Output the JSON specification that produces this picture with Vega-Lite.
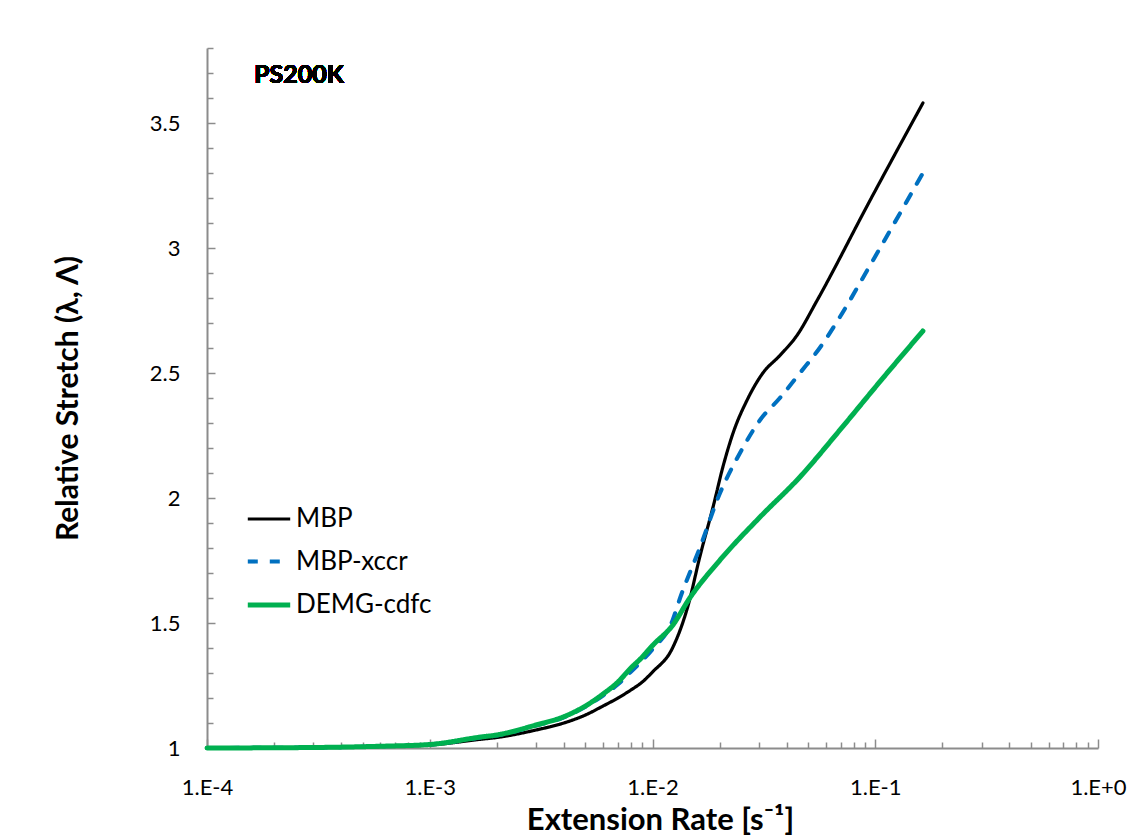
{
  "$schema": "https://vega.github.io/schema/vega-lite/v6.json",
  "autosize": "none",
  "width": 891,
  "height": 700,
  "padding": {"left": 207, "top": 48, "right": 38, "bottom": 87},
  "background": "white",
  "config": {
    "view": {"stroke": null},
    "font": "Lato",
    "axis": {"grid": false, "domainColor": "#8c8c8c", "domainWidth": 2, "tickColor": "#8c8c8c", "tickWidth": 1.5, "labelColor": "#000000", "titleColor": "#000000", "labelFont": "Lato", "titleFont": "Lato"}
  },
  "data": {
    "values": [
      {"series": "MBP", "rate": 0.0001, "stretch": 1.0},
      {"series": "MBP", "rate": 0.0003, "stretch": 1.002},
      {"series": "MBP", "rate": 0.0006, "stretch": 1.006},
      {"series": "MBP", "rate": 0.001, "stretch": 1.012},
      {"series": "MBP", "rate": 0.0017, "stretch": 1.035},
      {"series": "MBP", "rate": 0.002, "stretch": 1.042},
      {"series": "MBP", "rate": 0.003, "stretch": 1.072},
      {"series": "MBP", "rate": 0.004, "stretch": 1.10},
      {"series": "MBP", "rate": 0.005, "stretch": 1.132},
      {"series": "MBP", "rate": 0.006, "stretch": 1.168},
      {"series": "MBP", "rate": 0.007, "stretch": 1.20},
      {"series": "MBP", "rate": 0.008, "stretch": 1.232},
      {"series": "MBP", "rate": 0.009, "stretch": 1.264},
      {"series": "MBP", "rate": 0.01, "stretch": 1.304},
      {"series": "MBP", "rate": 0.0123, "stretch": 1.40},
      {"series": "MBP", "rate": 0.0145, "stretch": 1.575},
      {"series": "MBP", "rate": 0.0163, "stretch": 1.764},
      {"series": "MBP", "rate": 0.0187, "stretch": 1.964},
      {"series": "MBP", "rate": 0.0207, "stretch": 2.124},
      {"series": "MBP", "rate": 0.023, "stretch": 2.26},
      {"series": "MBP", "rate": 0.0266, "stretch": 2.392},
      {"series": "MBP", "rate": 0.0313, "stretch": 2.50},
      {"series": "MBP", "rate": 0.0373, "stretch": 2.57},
      {"series": "MBP", "rate": 0.0445, "stretch": 2.65},
      {"series": "MBP", "rate": 0.0548, "stretch": 2.79},
      {"series": "MBP", "rate": 0.0947, "stretch": 3.19},
      {"series": "MBP", "rate": 0.1637, "stretch": 3.58},
      {"series": "MBP-xccr", "rate": 0.0001, "stretch": 1.0},
      {"series": "MBP-xccr", "rate": 0.0003, "stretch": 1.002},
      {"series": "MBP-xccr", "rate": 0.0006, "stretch": 1.007},
      {"series": "MBP-xccr", "rate": 0.001, "stretch": 1.014},
      {"series": "MBP-xccr", "rate": 0.0017, "stretch": 1.042},
      {"series": "MBP-xccr", "rate": 0.002, "stretch": 1.05},
      {"series": "MBP-xccr", "rate": 0.003, "stretch": 1.09},
      {"series": "MBP-xccr", "rate": 0.004, "stretch": 1.123},
      {"series": "MBP-xccr", "rate": 0.005, "stretch": 1.165},
      {"series": "MBP-xccr", "rate": 0.006, "stretch": 1.21},
      {"series": "MBP-xccr", "rate": 0.007, "stretch": 1.255},
      {"series": "MBP-xccr", "rate": 0.008, "stretch": 1.305},
      {"series": "MBP-xccr", "rate": 0.009, "stretch": 1.35},
      {"series": "MBP-xccr", "rate": 0.01, "stretch": 1.395},
      {"series": "MBP-xccr", "rate": 0.0123, "stretch": 1.51},
      {"series": "MBP-xccr", "rate": 0.0133, "stretch": 1.60},
      {"series": "MBP-xccr", "rate": 0.0163, "stretch": 1.80},
      {"series": "MBP-xccr", "rate": 0.0201, "stretch": 2.02},
      {"series": "MBP-xccr", "rate": 0.0247, "stretch": 2.18},
      {"series": "MBP-xccr", "rate": 0.0304, "stretch": 2.312},
      {"series": "MBP-xccr", "rate": 0.0373, "stretch": 2.40},
      {"series": "MBP-xccr", "rate": 0.0459, "stretch": 2.50},
      {"series": "MBP-xccr", "rate": 0.0563, "stretch": 2.60},
      {"series": "MBP-xccr", "rate": 0.0694, "stretch": 2.724},
      {"series": "MBP-xccr", "rate": 0.0947, "stretch": 2.93},
      {"series": "MBP-xccr", "rate": 0.1637, "stretch": 3.30},
      {"series": "DEMG-cdfc", "rate": 0.0001, "stretch": 1.0},
      {"series": "DEMG-cdfc", "rate": 0.0003, "stretch": 1.002},
      {"series": "DEMG-cdfc", "rate": 0.0006, "stretch": 1.007},
      {"series": "DEMG-cdfc", "rate": 0.001, "stretch": 1.014},
      {"series": "DEMG-cdfc", "rate": 0.0017, "stretch": 1.044},
      {"series": "DEMG-cdfc", "rate": 0.002, "stretch": 1.052},
      {"series": "DEMG-cdfc", "rate": 0.003, "stretch": 1.092},
      {"series": "DEMG-cdfc", "rate": 0.004, "stretch": 1.125},
      {"series": "DEMG-cdfc", "rate": 0.005, "stretch": 1.168},
      {"series": "DEMG-cdfc", "rate": 0.006, "stretch": 1.216},
      {"series": "DEMG-cdfc", "rate": 0.007, "stretch": 1.264},
      {"series": "DEMG-cdfc", "rate": 0.008, "stretch": 1.32},
      {"series": "DEMG-cdfc", "rate": 0.009, "stretch": 1.364},
      {"series": "DEMG-cdfc", "rate": 0.01, "stretch": 1.41},
      {"series": "DEMG-cdfc", "rate": 0.0123, "stretch": 1.49},
      {"series": "DEMG-cdfc", "rate": 0.0147, "stretch": 1.60},
      {"series": "DEMG-cdfc", "rate": 0.0201, "stretch": 1.752},
      {"series": "DEMG-cdfc", "rate": 0.0304, "stretch": 1.924},
      {"series": "DEMG-cdfc", "rate": 0.0459, "stretch": 2.084},
      {"series": "DEMG-cdfc", "rate": 0.0694, "stretch": 2.272},
      {"series": "DEMG-cdfc", "rate": 0.1083, "stretch": 2.48},
      {"series": "DEMG-cdfc", "rate": 0.1637, "stretch": 2.668}
    ]
  },
  "layer": [
    {
      "mark": {"type": "line", "interpolate": "monotone", "strokeCap": "round"},
      "encoding": {
        "x": {
          "field": "rate", "type": "quantitative",
          "scale": {"type": "log", "domain": [0.0001, 1], "nice": false},
          "axis": {
            "title": "Extension Rate [s⁻¹]",
            "titleFontSize": 31, "titleFontWeight": "bold", "titlePadding": 4, "titleX": 453,
            "labelFontSize": 22, "labelPadding": 38, "tickCount": 200,
            "values": [0.0001, 0.0002, 0.0003, 0.0004, 0.0005, 0.0006, 0.0007, 0.0008, 0.0009, 0.001, 0.002, 0.003, 0.004, 0.005, 0.006, 0.007, 0.008, 0.009, 0.01, 0.02, 0.03, 0.04, 0.05, 0.06, 0.07, 0.08, 0.09, 0.1, 0.2, 0.3, 0.4, 0.5, 0.6, 0.7, 0.8, 0.9, 1],
            "labelExpr": "abs(log(datum.value)/LN10 - round(log(datum.value)/LN10)) < 0.000001 ? ('1.E' + (round(log(datum.value)/LN10) >= 0 ? '+0' : '-' + toString(-round(log(datum.value)/LN10)))) : ''",
            "tickSize": {"condition": {"test": "abs(log(datum.value)/LN10 - round(log(datum.value)/LN10)) < 0.000001", "value": -9}, "value": -6},
            "labelFlush": false, "labelOverlap": false
          }
        },
        "y": {
          "field": "stretch", "type": "quantitative",
          "scale": {"domain": [1, 3.8], "nice": false, "zero": false},
          "axis": {
            "title": "Relative Stretch (λ, Λ)",
            "titleFontSize": 30, "titleFontWeight": "bold", "titleX": -139, "titleBaseline": "middle",
            "labelFontSize": 22, "labelPadding": 35, "tickCount": 200,
            "values": [1, 1.1, 1.2, 1.3, 1.4, 1.5, 1.6, 1.7, 1.8, 1.9, 2, 2.1, 2.2, 2.3, 2.4, 2.5, 2.6, 2.7, 2.8, 2.9, 3, 3.1, 3.2, 3.3, 3.4, 3.5, 3.6, 3.7, 3.8],
            "labelExpr": "abs(datum.value*2 - round(datum.value*2)) < 0.000001 ? toString(datum.value) : ''",
            "tickSize": {"condition": {"test": "abs(datum.value*2 - round(datum.value*2)) < 0.000001", "value": -8}, "value": -6},
            "labelOverlap": false, "labelFlush": false
          }
        },
        "color": {
          "field": "series", "type": "nominal",
          "scale": {"domain": ["MBP", "MBP-xccr", "DEMG-cdfc"], "range": ["#000000", "#0070C0", "#00B050"]},
          "legend": {
            "title": null, "orient": "none", "legendX": 38, "legendY": 448,
            "labelFontSize": 26, "labelColor": "#000000", "labelFont": "Lato",
            "symbolType": "stroke", "symbolSize": 1800, "symbolStrokeWidth": 4.5,
            "rowPadding": 6, "labelOffset": 3
          }
        },
        "strokeDash": {
          "field": "series", "type": "nominal",
          "scale": {"domain": ["MBP", "MBP-xccr", "DEMG-cdfc"], "range": [[1, 0], [10, 12], [1, 0]]},
          "legend": {
            "title": null, "orient": "none", "legendX": 38, "legendY": 448,
            "labelFontSize": 26, "labelColor": "#000000", "labelFont": "Lato",
            "symbolType": "stroke", "symbolSize": 1800, "symbolStrokeWidth": 4.5,
            "rowPadding": 6, "labelOffset": 3
          }
        },
        "strokeWidth": {
          "field": "series", "type": "nominal",
          "scale": {"domain": ["MBP", "MBP-xccr", "DEMG-cdfc"], "range": [3.2, 5, 4]},
          "legend": null
        }
      }
    },
    {
      "mark": {"type": "text", "align": "left", "baseline": "middle", "fontSize": 25, "fontWeight": "bold", "font": "Lato", "color": "#000000"},
      "encoding": {
        "x": {"datum": 0.0001625},
        "y": {"datum": 3.692},
        "text": {"value": "PS200K"}
      }
    }
  ]
}
